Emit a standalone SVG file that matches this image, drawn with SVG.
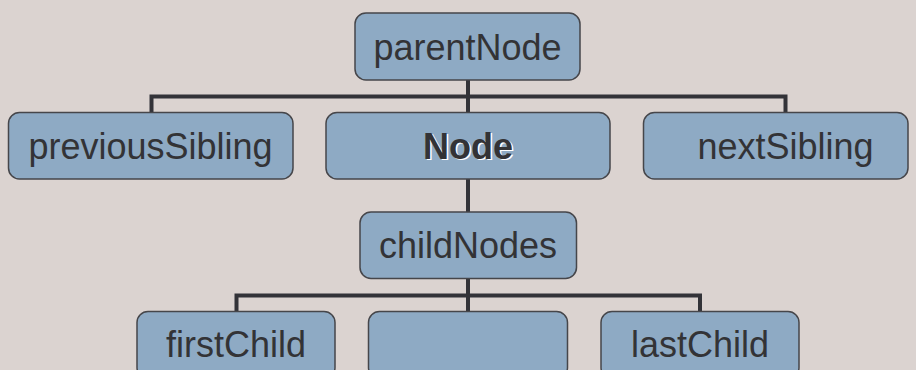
<svg xmlns="http://www.w3.org/2000/svg" width="916" height="370" viewBox="0 0 916 370">
<style>
.box{fill:#8eaac4;stroke:#46464a;stroke-width:1.5}
.lbl{font-family:"Liberation Sans",Arial,sans-serif;font-size:36px;fill:#333336;text-anchor:middle}
.bold{font-weight:bold}
.shadow{fill:#ffffff}
.conn{fill:none;stroke:#333338;stroke-width:4}
</style>
<rect x="0" y="0" width="916" height="370" fill="#dbd3d0"/>
<g id="connectors">
<path class="conn" d="M468,80 V112 M151.5,112 V96.5 H785.5 V112"/>
<path class="conn" d="M468,179 V212"/>
<path class="conn" d="M468,278 V311.5 M236.5,311.5 V295.5 H700 V311.5"/>
</g>
<g id="parentNode">
<rect class="box" x="355" y="13" width="225" height="67" rx="11"/>
<text class="lbl" x="467.5" y="59.5">parentNode</text>
</g>
<g id="previousSibling">
<rect class="box" x="8.5" y="112.5" width="284.5" height="66.5" rx="11"/>
<text class="lbl" x="150.5" y="158.5">previousSibling</text>
</g>
<g id="node">
<rect class="box" x="326" y="112.5" width="284" height="66.5" rx="11"/>
<text class="lbl bold shadow" x="469.5" y="160">Node</text>
<text class="lbl bold" x="468" y="158.5">Node</text>
</g>
<g id="nextSibling">
<rect class="box" x="643.5" y="112.5" width="264.5" height="66.5" rx="11"/>
<text class="lbl" x="785.5" y="158.5">nextSibling</text>
</g>
<g id="childNodes">
<rect class="box" x="360" y="212" width="216.5" height="66.5" rx="11"/>
<text class="lbl" x="468" y="258">childNodes</text>
</g>
<g id="firstChild">
<rect class="box" x="137" y="311.5" width="198" height="67" rx="11"/>
<text class="lbl" x="236" y="357">firstChild</text>
</g>
<g id="middleChild">
<rect class="box" x="368.5" y="311.5" width="199" height="67" rx="11"/>
</g>
<g id="lastChild">
<rect class="box" x="601" y="311.5" width="198" height="67" rx="11"/>
<text class="lbl" x="700" y="357">lastChild</text>
</g>
</svg>
